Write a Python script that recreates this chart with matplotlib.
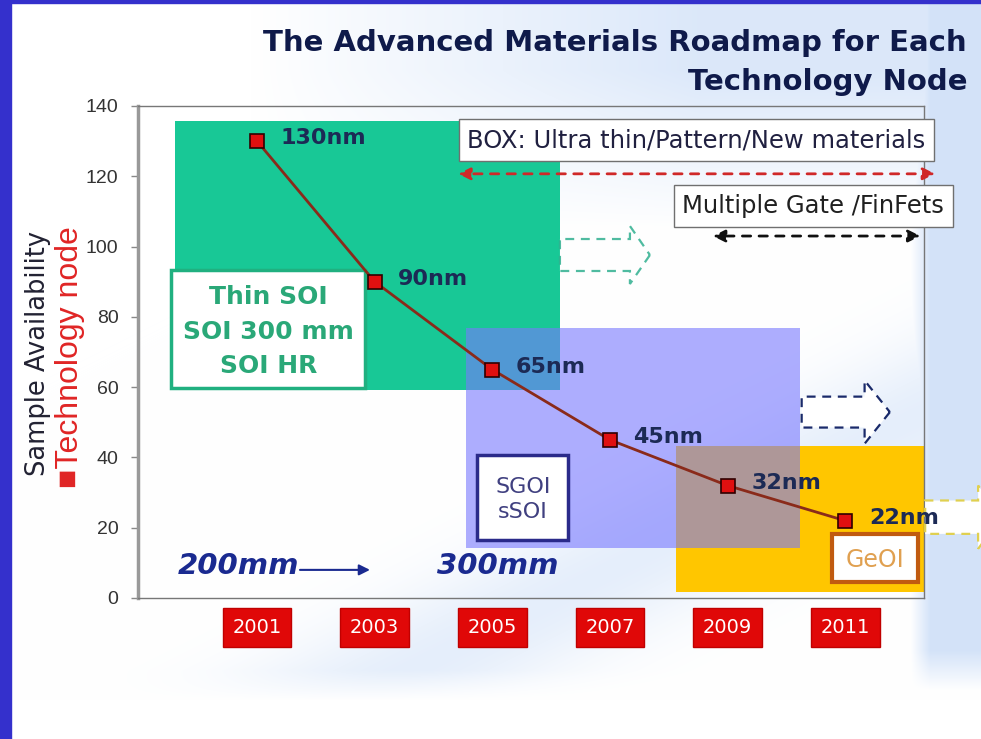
import matplotlib.pyplot as plt
import matplotlib.patches as mpatches
import numpy as np

# data
years = [2001, 2003, 2005, 2007, 2009, 2011]
node_nm = [130, 90, 65, 45, 32, 22]
y_ticks = [0, 20, 40, 60, 80, 100, 120, 140]
title = "The Advanced Materials Roadmap for Each\nTechnology Node"

W, H = 981, 739
fig = plt.figure(figsize=(W / 100, H / 100), dpi=100)

# soft blue swoosh background
X, Y = np.meshgrid(np.arange(W), np.arange(H))
top = np.clip((X - 250) / 450, 0, 1) * np.clip((230 - Y) / 160, 0, 1)
right = np.clip((X - 910) / 20, 0, 1) * np.clip((690 - Y) / 40, 0, 1)
d = np.abs((Y - 700) + (X - 350) * 0.5) / np.sqrt(1.25)
swoosh = 0.5 * np.exp(-(d / 70) ** 2) * np.clip((700 - Y) / 30, 0, 1)
b = np.clip(np.maximum(np.maximum(0.7 * top, 0.85 * right), swoosh), 0, 1)[..., None]
blue = np.array([0.80, 0.87, 0.97])
bg = (1 - b) * np.ones(3) + b * blue
bgax = fig.add_axes([0, 0, 1, 1], zorder=-10)
bgax.imshow(bg, extent=(0, W, H, 0), aspect='auto')
bgax.set_axis_off()

# blue frame of the slide
fig.patches.append(mpatches.Rectangle((0, 0), 11 / W, 1, transform=fig.transFigure,
                                      color='#3430cc', zorder=5))
fig.patches.append(mpatches.Rectangle((0, 1 - 3 / H), 1, 3 / H, transform=fig.transFigure,
                                      color='#3430cc', zorder=5))

ax = fig.add_axes([138 / W, 1 - 598 / H, 786 / W, 492 / H])
ax.patch.set_alpha(0)
ax.set_xlim(1998.976, 2012.34)
ax.set_ylim(0, 140)

# coloured technology regions
ax.add_patch(mpatches.Rectangle((2008.13, 1.7), 4.21, 41.6, color='#ffc600', lw=0, zorder=1))
ax.add_patch(mpatches.Rectangle((1999.61, 59.2), 6.54, 76.5, color='#18c896', lw=0, zorder=1))
ax.add_patch(mpatches.Rectangle((2004.55, 14.2), 5.69, 62.6, color='#7878ff', alpha=0.6,
                                lw=0, zorder=2))

# hollow dashed arrows
arrow_kw = dict(length_includes_head=True, lw=1.6, ls=(0, (4, 3)), fc='white', zorder=3,
                clip_on=False)
ax.add_patch(mpatches.FancyArrow(2006.15, 97.6, 1.53, 0, width=9.1, head_width=16.5,
                                 head_length=0.34, ec='#30b090', alpha=0.85, **arrow_kw))
ax.add_patch(mpatches.FancyArrow(2010.26, 52.9, 1.5, 0, width=8.8, head_width=18,
                                 head_length=0.43, ec='#1a2a6a', **arrow_kw))
ax.add_patch(mpatches.FancyArrow(2012.36, 23.0, 1.3, 0, width=9.5, head_width=18,
                                 head_length=0.4, ec='#e0d050', **arrow_kw))

# technology node curve
ax.plot(years, node_nm, color='#8a2a1a', lw=2, zorder=6)
ax.plot(years, node_nm, ls='none', marker='s', ms=10, mfc='#e01010', mec='#300000',
        mew=1.2, zorder=7)
for x, v in zip(years, node_nm):
    ax.annotate(f"{v}nm", (x, v), xytext=(17, 2), textcoords='offset points',
                ha='left', va='center', fontsize=16, fontweight='bold',
                color='#1c2a55', zorder=8)

# text boxes
ax.text(2008.47, 130.3, "BOX: Ultra thin/Pattern/New materials", ha='center', va='center',
        fontsize=17.5, color='#202040', zorder=8, clip_on=False,
        bbox=dict(boxstyle='square,pad=0.36', fc='white', ec='#707070', lw=1))
ax.text(2010.46, 111.6, "Multiple Gate /FinFets", ha='center', va='center',
        fontsize=17.5, color='#202020', zorder=8, clip_on=False,
        bbox=dict(boxstyle='square,pad=0.36', fc='white', ec='#707070', lw=1))

ax.add_patch(mpatches.Rectangle((1999.537, 59.8), 3.299, 33.5, fc='white', ec='#20b080',
                                lw=2.5, zorder=4))
ax.text(2001.19, 75.8, "Thin SOI\nSOI 300 mm\nSOI HR", ha='center', va='center',
        fontsize=18, fontweight='bold', color='#2aa878', linespacing=1.55, zorder=8)

ax.add_patch(mpatches.Rectangle((2004.74, 16.5), 1.55, 24.2, fc='white', ec='#2a2a8a',
                                lw=2.5, zorder=4))
ax.text(2005.52, 28.0, "SGOI\nsSOI", ha='center', va='center', fontsize=16,
        color='#404080', linespacing=1.35, zorder=8)

ax.add_patch(mpatches.Rectangle((2010.78, 4.55), 1.46, 13.65, fc='white', ec='#c05a10',
                                lw=3, zorder=4))
ax.text(2011.51, 10.8, "GeOI", ha='center', va='center', fontsize=17, color='#e0a050',
        zorder=8)

# dashed double arrows
ax.annotate('', xy=(2004.42, 120.7), xytext=(2012.53, 120.7), annotation_clip=False,
            arrowprops=dict(arrowstyle='<|-|>', ls=(0, (3, 3)), color='#d02828', lw=2,
                            mutation_scale=18, shrinkA=0, shrinkB=0), zorder=8)
ax.annotate('', xy=(2008.75, 103.0), xytext=(2012.28, 103.0), annotation_clip=False,
            arrowprops=dict(arrowstyle='<|-|>', ls=(0, (3, 3)), color='#101010', lw=2,
                            mutation_scale=18, shrinkA=0, shrinkB=0), zorder=8)

# wafer size labels
ax.text(1999.66, 9.1, "200mm", ha='left', va='center', fontsize=21, fontweight='bold',
        style='italic', color='#1a2a90', zorder=8)
ax.annotate('', xy=(2002.92, 8.0), xytext=(2001.73, 8.0),
            arrowprops=dict(arrowstyle='-|>', color='#1a2a90', lw=1.5, mutation_scale=16,
                            shrinkA=0, shrinkB=0), zorder=8)
ax.text(2004.06, 9.1, "300mm", ha='left', va='center', fontsize=21, fontweight='bold',
        style='italic', color='#1a2a90', zorder=8)

# axes styling
ax.set_yticks(y_ticks)
ax.set_yticklabels([str(t) for t in y_ticks], family='Liberation Sans', fontsize=14,
                   color='#333333')
ax.tick_params(axis='y', length=5, width=1, color='#888888', pad=9)
ax.set_xticks(years)
ax.set_xticklabels([str(y) for y in years], fontsize=14, color='white')
ax.tick_params(axis='x', length=0, pad=14.5)
for lbl in ax.get_xticklabels():
    lbl.set_bbox(dict(boxstyle='square,pad=0.5', fc='#e00808', ec='#c00000', lw=1))
for side in ['top', 'right', 'bottom']:
    ax.spines[side].set_color('#777777')
    ax.spines[side].set_linewidth(1)
ax.spines['left'].set_color('#999999')
ax.spines['left'].set_linewidth(2.5)

fig.text(38 / W, 1 - 353 / H, "Sample Availability", rotation=90, ha='center', va='center',
         fontsize=18.5, family='DejaVu Sans', color='#222233')
fig.text(70 / W, 1 - 357 / H, "\u25a0Technology node", rotation=90, ha='center',
         va='center', fontsize=23, family='Liberation Sans', color='#e02525')
fig.text(967 / W, 1 - 29 / H, title, ha='right', va='top', fontsize=21,
         fontweight='bold', color='#0f1a4a', linespacing=1.5)

fig.savefig('out.png', dpi=100)
